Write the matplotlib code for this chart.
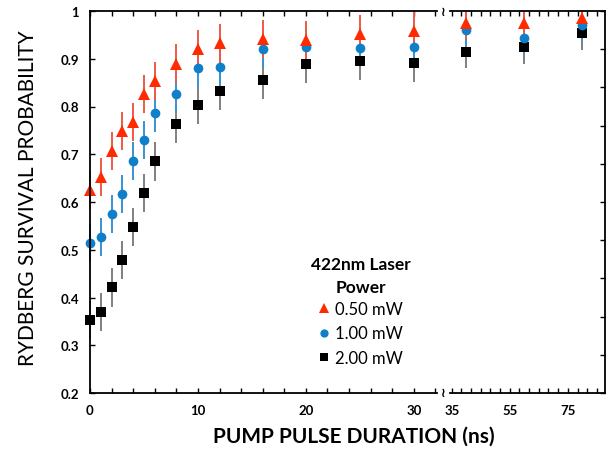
import matplotlib
matplotlib.use("Agg")
import matplotlib.pyplot as plt
import numpy as np
from matplotlib.lines import Line2D
from matplotlib.ticker import FixedLocator

plt.rcParams['font.family'] = ['Lato', 'DejaVu Sans']

# pulse durations (ns)
t_short = [0, 1, 2, 3, 4, 5, 6, 8, 10, 12, 16, 20, 25, 30]
t_long = [40, 60, 80]

# survival probability, 0.50 mW / 1.00 mW / 2.00 mW
p050_short = [0.626, 0.653, 0.706, 0.749, 0.768, 0.826, 0.854, 0.890, 0.920, 0.932, 0.941, 0.940, 0.952, 0.959]
p100_short = [0.514, 0.526, 0.575, 0.617, 0.686, 0.730, 0.787, 0.826, 0.880, 0.883, 0.920, 0.925, 0.922, 0.925]
p200_short = [0.353, 0.369, 0.421, 0.479, 0.548, 0.619, 0.685, 0.763, 0.803, 0.832, 0.856, 0.890, 0.896, 0.891]
p050_long = [0.975, 0.975, 0.985]
p100_long = [0.961, 0.943, 0.971]
p200_long = [0.915, 0.924, 0.953]

err_short = [0.04] * 14
err_long = [0.034] * 3

labels = ['0.50 mW', '1.00 mW', '2.00 mW']

W, H = 616, 464
fig = plt.figure(figsize=(W / 100, H / 100), dpi=100)
ax1 = fig.add_axes([90 / W, 1 - 394 / H, (437 - 90) / W, (394 - 12) / H])
ax2 = fig.add_axes([450 / W, 1 - 394 / H, (605 - 450) / W, (394 - 12) / H])

styles = [
    ('s', 'black', '#808080', 6.5),
    ('o', '#0E7FC8', '#3A93D3', 7),
    ('^', '#FF2A00', '#EE5A45', 8),
]
short_sets = [p200_short, p100_short, p050_short]
long_sets = [p200_long, p100_long, p050_long]

for (m, mc, ec, ms), ys, yl in zip(styles, short_sets, long_sets):
    ax1.errorbar(t_short, ys, yerr=err_short, fmt=m, color=mc, ecolor=ec,
                 elinewidth=1.4, capsize=0, markersize=ms, markeredgewidth=0,
                 clip_on=False)
    ax2.errorbar(t_long, yl, yerr=err_long, fmt=m, color=mc, ecolor=ec,
                 elinewidth=1.4, capsize=0, markersize=ms, markeredgewidth=0)

for ax in (ax1, ax2):
    ax.set_ylim(0.2, 1.0)
    ax.tick_params(direction='in', length=3.5, width=1, top=True,
                   labelsize=9.5)
    for s in ax.spines.values():
        s.set_linewidth(1.3)

ax1.set_xlim(0, 32.15)
ax1.xaxis.set_major_locator(FixedLocator(np.arange(0, 33, 2)))
ax1.set_xticklabels([str(v) if v % 10 == 0 else '' for v in np.arange(0, 33, 2)],
                    fontweight='bold')
ax1.set_yticks(np.arange(0.2, 1.01, 0.1))
ax1.set_yticklabels(['0.2', '0.3', '0.4', '0.5', '0.6', '0.7', '0.8', '0.9', '1'],
                    fontweight='bold')
ax1.spines['right'].set_visible(False)
ax1.tick_params(axis='y', right=False, pad=8)
ax1.tick_params(axis='x', pad=8)

ax2.set_xlim(34.4, 87.8)
r_ticks = 35 + np.arange(0, 17) * 10 / 3
ax2.xaxis.set_major_locator(FixedLocator(r_ticks))
ax2.set_xticklabels(['35' if i == 0 else '55' if i == 6 else '75' if i == 12 else ''
                     for i in range(17)], fontweight='bold')
ax2.set_yticks(0.2 + np.arange(0, 11) * 0.08)
ax2.tick_params(axis='y', left=False, right=True, labelleft=False)
ax2.tick_params(axis='x', pad=8)
ax2.spines['left'].set_visible(False)

# axis break marks
for yy in (12, 394):
    fig.text(443 / W, 1 - yy / H, '≀', ha='center', va='center', fontsize=9,
             fontweight='bold', family=['DejaVu Sans'])

fig.text(28 / W, 1 - 198 / H, 'RYDBERG SURVIVAL PROBABILITY', rotation=90,
         ha='center', va='center', fontsize=15)
fig.text(354 / W, 1 - 437 / H, 'PUMP PULSE DURATION (ns)', ha='center',
         va='center', fontsize=15, fontweight='bold')

# legend title as two centred lines, entries below
fig.text(361 / W, 1 - 265 / H, '422nm Laser', ha='center', va='center',
         fontsize=12.5, fontweight='bold')
fig.text(361 / W, 1 - 288 / H, 'Power', ha='center', va='center',
         fontsize=12.5, fontweight='bold')
handles = [Line2D([], [], marker=m, color=mc, linestyle='none', markersize=ms * 0.85,
                  markeredgewidth=0) for (m, mc, ec, ms) in styles[::-1]]
fig.legend(handles, labels, loc='upper left',
           bbox_to_anchor=(319 / W, 1 - 302 / H), frameon=False,
           fontsize=12, handlelength=0.6, handletextpad=0.35,
           labelspacing=0.5, borderpad=0, borderaxespad=0)

fig.savefig('out.png', dpi=100)
